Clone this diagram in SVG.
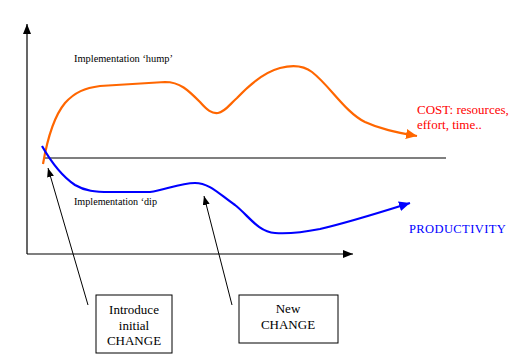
<svg xmlns="http://www.w3.org/2000/svg" width="531" height="364" viewBox="0 0 531 364" font-family="'Liberation Serif', 'Times New Roman', serif">
<style>
.axis{stroke:#000;stroke-width:1.2;fill:none}
.ptr{stroke:#000;stroke-width:1;fill:none}
.cost{stroke:#FF6600;stroke-width:2.2;fill:none}
.prod{stroke:#0000FF;stroke-width:2.2;fill:none}
.box{fill:#fff;stroke:#000;stroke-width:1}
text{font-family:"Liberation Serif","Times New Roman",serif}
.lbl{font-size:11px;fill:#000}
.btxt{font-size:13px;fill:#000;text-anchor:middle}
</style>
<defs>
<marker id="ah" markerUnits="userSpaceOnUse" markerWidth="12" markerHeight="10" refX="10" refY="4" orient="auto"><path d="M0,0 L10,4 L0,8 z" fill="#000"/></marker>
<marker id="ahs" markerUnits="userSpaceOnUse" markerWidth="12" markerHeight="10" refX="9" refY="3.5" orient="auto"><path d="M0,0 L9,3.5 L0,7 z" fill="#000"/></marker>
<marker id="aho" markerUnits="userSpaceOnUse" markerWidth="14" markerHeight="12" refX="11" refY="5" orient="auto"><path d="M0,0 L11,5 L0,10 z" fill="#FF6600"/></marker>
<marker id="ahb" markerUnits="userSpaceOnUse" markerWidth="14" markerHeight="12" refX="11" refY="5" orient="auto"><path d="M0,0 L11,5 L0,10 z" fill="#0000FF"/></marker>
</defs>
<rect width="531" height="364" fill="#fff"/>
<g id="connectors">
<line class="axis" x1="27" y1="254" x2="27" y2="24" marker-end="url(#ah)"/>
<line class="axis" x1="27" y1="254" x2="353" y2="254" marker-end="url(#ah)"/>
<line class="axis" x1="44" y1="158" x2="446" y2="158"/>
<path class="cost" d="M43,164 C48,135 55,115 65,103 C75,92 85,88 100,86 L165,82 C180,82 188,90 200,102 C207,110 212,114 218,113 C225,112 230,104 237,98 C250,84 265,72 280,68 C292,65 303,65 312,72 C330,86 345,112 365,122 C380,129 395,132 417,136" marker-end="url(#aho)"/>
<path class="prod" d="M42,146 C50,160 60,175 75,185 C85,191 95,192 110,192 L150,192 C165,190 180,183 195,183 C210,183 220,195 235,205 C248,215 258,232 275,233 C290,234 300,233 320,229 C350,222 375,214 410,203" marker-end="url(#ahb)"/>
<line class="ptr" x1="88" y1="305" x2="48" y2="168" marker-end="url(#ahs)"/>
<line class="ptr" x1="232" y1="305" x2="204" y2="196" marker-end="url(#ahs)"/>
</g>
<g id="label-hump"><text class="lbl" x="74" y="62" textLength="99" lengthAdjust="spacingAndGlyphs">Implementation ‘hump’</text></g>
<g id="label-dip"><text class="lbl" x="74" y="205" textLength="83" lengthAdjust="spacingAndGlyphs">Implementation ‘dip</text></g>
<g id="label-cost">
<text x="417" y="114" font-size="13" fill="#FF0000">COST: resources,</text>
<text x="417" y="129" font-size="13" fill="#FF0000">effort, time..</text>
</g>
<g id="label-productivity"><text x="409" y="233" font-size="12.5" fill="#0000FF" letter-spacing="0.4">PRODUCTIVITY</text></g>
<g id="node-initial">
<rect class="box" x="96" y="295" width="76" height="58"/>
<text class="btxt" x="134" y="314">Introduce</text>
<text class="btxt" x="134" y="330">initial</text>
<text class="btxt" x="134" y="345">CHANGE</text>
</g>
<g id="node-new">
<rect class="box" x="239" y="295" width="99" height="48"/>
<text class="btxt" x="288" y="313">New</text>
<text class="btxt" x="288" y="329">CHANGE</text>
</g>
</svg>
